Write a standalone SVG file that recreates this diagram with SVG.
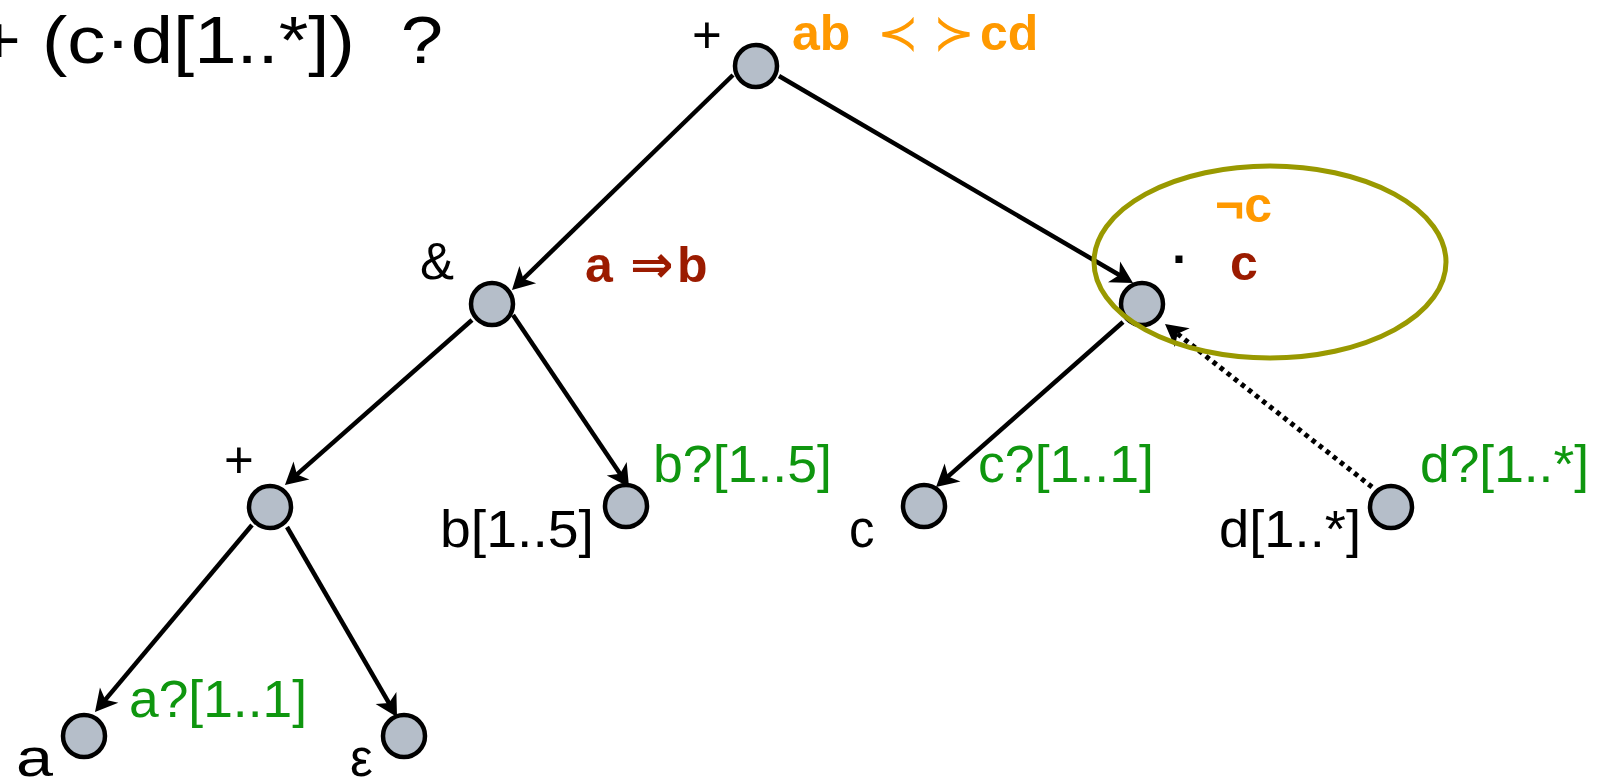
<svg xmlns="http://www.w3.org/2000/svg" width="1611" height="782" viewBox="0 0 1611 782">
  <style>
    .lbl { font-family: "Liberation Sans", Arial, sans-serif; font-size: 51px; fill: #000; }
    .grn { font-family: "Liberation Sans", Arial, sans-serif; font-size: 51px; fill: #0f960f; }
    .bold { font-family: "Liberation Sans", Arial, sans-serif; font-size: 50px; font-weight: bold; }
    .org { fill: #ff9900; }
    .red { fill: #9b1b00; }
    .edge { fill: none; stroke: #000; stroke-width: 4.5; }
    .dot { fill: none; stroke: #000; stroke-width: 5; stroke-dasharray: 4.5 4.5; }
    .node { fill: #b5bec9; stroke: #000; stroke-width: 4.5; }
    .math { font-family: "DejaVu Sans", sans-serif; font-weight: normal; }
  </style>
  <defs>
    <marker id="arr" markerUnits="userSpaceOnUse" viewBox="-18 -14 28 28" refX="0" refY="0" markerWidth="28" markerHeight="28" orient="auto">
      <path d="M7,0 L-15,-12 L-9,0 L-15,12 Z" fill="#000"/>
    </marker>
  </defs>
  <rect width="1611" height="782" fill="#fff"/>

  <!-- title -->
  <text class="lbl" transform="translate(-23.6,63) scale(1.153,1)" xml:space="preserve" style="font-size:66px"><tspan x="0">+ (c·d[1..*])  </tspan><tspan x="368">?</tspan></text>

  <!-- connectors -->
  <g id="connectors">
    <path class="edge" d="M733,75 L517,285" marker-end="url(#arr)"/>
    <path class="edge" d="M779,76 L1127,279.5" marker-end="url(#arr)"/>
    <path class="edge" d="M472,320 L290.2,480.4" marker-end="url(#arr)"/>
    <path class="edge" d="M513,315 L625.1,481.2" marker-end="url(#arr)"/>
    <path class="edge" d="M252,525 L99.5,706.6" marker-end="url(#arr)"/>
    <path class="edge" d="M287,527 L393.5,710.9" marker-end="url(#arr)"/>
    <path class="edge" d="M1123,322 L941.3,482.4" marker-end="url(#arr)"/>
    <path class="dot" d="M1372,487 L1170.5,328.3" marker-end="url(#arr)"/>
  </g>

  <!-- nodes -->
  <g id="n-root">
    <circle class="node" cx="756" cy="66" r="21"/>
    <text class="lbl" x="692" y="53">+</text>
    <text class="bold org" y="50"><tspan x="792">ab</tspan><tspan class="math" x="877">≺</tspan><tspan class="math" x="933">≻</tspan><tspan x="980">cd</tspan></text>
  </g>
  <g id="n-and">
    <circle class="node" cx="492" cy="304" r="21"/>
    <text class="lbl" x="420" y="279">&amp;</text>
    <text class="bold red" y="282"><tspan x="585">a </tspan><tspan class="math" x="630" style="font-size:52px;font-weight:bold">⇒</tspan><tspan x="677">b</tspan></text>
  </g>
  <g id="n-plus">
    <circle class="node" cx="270" cy="507" r="21"/>
    <text class="lbl" x="224" y="478">+</text>
  </g>
  <g id="n-b">
    <circle class="node" cx="626" cy="506" r="21"/>
    <text class="lbl" x="440" y="547" textLength="154" lengthAdjust="spacingAndGlyphs">b[1..5]</text>
    <text class="grn" x="653" y="482" textLength="179" lengthAdjust="spacingAndGlyphs">b?[1..5]</text>
  </g>
  <g id="n-a">
    <circle class="node" cx="84" cy="736" r="21"/>
    <text class="lbl" x="16" y="776" textLength="37" lengthAdjust="spacingAndGlyphs">a</text>
    <text class="grn" x="129" y="717" textLength="178" lengthAdjust="spacingAndGlyphs">a?[1..1]</text>
  </g>
  <g id="n-eps">
    <circle class="node" cx="404" cy="736" r="21"/>
    <text class="lbl" x="350" y="776">ε</text>
  </g>
  <g id="n-dot">
    <circle class="node" cx="1142" cy="304" r="21"/>
    <text class="bold" x="1172" y="276">·</text>
    <text class="bold red" x="1230" y="280">c</text>
    <text class="bold org" x="1215" y="222">¬c</text>
  </g>
  <g id="n-c">
    <circle class="node" cx="924" cy="506" r="21"/>
    <text class="lbl" x="849" y="547">c</text>
    <text class="grn" x="978" y="482" textLength="176" lengthAdjust="spacingAndGlyphs">c?[1..1]</text>
  </g>
  <g id="n-d">
    <circle class="node" cx="1391" cy="507" r="21"/>
    <text class="lbl" x="1219" y="547" textLength="142" lengthAdjust="spacingAndGlyphs">d[1..*]</text>
    <text class="grn" x="1420" y="482" textLength="169" lengthAdjust="spacingAndGlyphs">d?[1..*]</text>
  </g>

  <!-- highlight ellipse -->
  <g id="highlight">
    <ellipse cx="1270" cy="262" rx="176" ry="96" fill="none" stroke="#999900" stroke-width="5"/>
  </g>
</svg>
